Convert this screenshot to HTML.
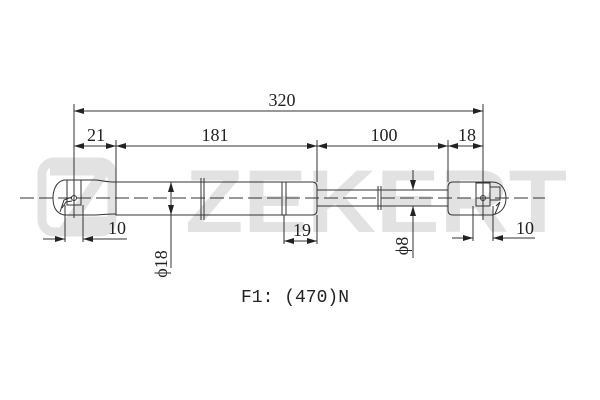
<!DOCTYPE html>
<html><head><meta charset="utf-8"><style>html,body{margin:0;padding:0;background:#fff}svg{display:block}</style></head>
<body>
<svg width="600" height="400" viewBox="0 0 600 400" xmlns="http://www.w3.org/2000/svg" font-family="Liberation Serif, serif">
<defs>
<marker id="a" viewBox="0 0 10 6" refX="10" refY="3" markerWidth="10" markerHeight="6" orient="auto-start-reverse" markerUnits="userSpaceOnUse"><path d="M0,0 L10,3 L0,6 z" fill="#222"/></marker>
</defs>
<g fill="none" stroke="#e2e2e2" stroke-width="9">
<rect x="42" y="162" width="70" height="70" rx="12"/>
</g>
<path d="M50,170 H105 L70,222 H108" fill="none" stroke="#e2e2e2" stroke-width="11"/>
<text x="185" y="232" font-family="Liberation Sans, sans-serif" font-weight="bold" font-size="89" fill="#e2e2e2" textLength="382" lengthAdjust="spacingAndGlyphs">ZEKERT</text>

<g stroke="#333" stroke-width="1" fill="none">
<line x1="20" y1="198" x2="545" y2="198" stroke-dasharray="14,5"/>
<path d="M116,182 C105,182 100,180 95,180 H64 C55,182 53,192 53,198 C53,205 55,213 64,215 H95 C100,215 105,214 116,214"/>
<rect x="67" y="180" width="14" height="25"/>
<circle cx="74" cy="198" r="2.5"/>
<path d="M60,212 L64,200 L72,197 M62,208 L66,202 L72,201"/>
<path d="M116,182 H312 Q317,182 317,187 V210 Q317,215 312,215 H116 Z"/>
<line x1="201" y1="178" x2="201" y2="220"/><line x1="204" y1="178" x2="204" y2="220"/>
<line x1="282" y1="182" x2="282" y2="215"/><line x1="286" y1="182" x2="286" y2="215"/>
<line x1="317" y1="190" x2="448" y2="190"/><line x1="317" y1="206" x2="448" y2="206"/>
<line x1="378" y1="186" x2="378" y2="210"/><line x1="381" y1="186" x2="381" y2="210"/>
<path d="M453,182 H492 C503,182 506,192 506,198 C506,205 503,213 492,215 H453 Q448,215 448,210 V187 Q448,182 453,182 Z"/>
<rect x="476" y="183" width="14" height="23"/>
<circle cx="483" cy="198" r="2.5"/>
<path d="M490,187 H500 V200 H490 M496,206 L500,202 L495,214"/>
<line x1="74" y1="104" x2="74" y2="218"/>
<line x1="483" y1="104" x2="483" y2="220"/>
<line x1="116" y1="140" x2="116" y2="182"/>
<line x1="317" y1="140" x2="317" y2="182"/>
<line x1="448" y1="140" x2="448" y2="182"/>
<line x1="65" y1="205" x2="65" y2="242"/><line x1="83" y1="205" x2="83" y2="242"/>
<line x1="284" y1="215" x2="284" y2="244"/><line x1="317" y1="215" x2="317" y2="244"/>
<line x1="473" y1="206" x2="473" y2="241"/><line x1="493" y1="206" x2="493" y2="241"/>
</g>
<g stroke="#333" stroke-width="1">
<line x1="74" y1="111" x2="483" y2="111" marker-start="url(#a)" marker-end="url(#a)"/>
<line x1="76" y1="146" x2="116" y2="146"/>
<line x1="84" y1="146" x2="74" y2="146" marker-end="url(#a)"/>
<line x1="106" y1="146" x2="116" y2="146" marker-end="url(#a)"/>
<line x1="116" y1="146" x2="317" y2="146"/>
<line x1="126" y1="146" x2="116" y2="146" marker-end="url(#a)"/>
<line x1="307" y1="146" x2="317" y2="146" marker-end="url(#a)"/>
<line x1="317" y1="146" x2="483" y2="146"/>
<line x1="327" y1="146" x2="317" y2="146" marker-end="url(#a)"/>
<line x1="438" y1="146" x2="448" y2="146" marker-end="url(#a)"/>
<line x1="458" y1="146" x2="448" y2="146" marker-end="url(#a)"/>
<line x1="473" y1="146" x2="483" y2="146" marker-end="url(#a)"/>
<line x1="43" y1="239" x2="65" y2="239" marker-end="url(#a)"/>
<line x1="127" y1="239" x2="83" y2="239" marker-end="url(#a)"/>
<line x1="284" y1="241" x2="317" y2="241"/>
<line x1="294" y1="241" x2="284" y2="241" marker-end="url(#a)"/>
<line x1="307" y1="241" x2="317" y2="241" marker-end="url(#a)"/>
<line x1="452" y1="238" x2="473" y2="238" marker-end="url(#a)"/>
<line x1="535" y1="238" x2="493" y2="238" marker-end="url(#a)"/>
<line x1="171" y1="198" x2="171" y2="182" marker-end="url(#a)"/>
<line x1="171" y1="198" x2="171" y2="215" marker-end="url(#a)"/>
<line x1="171" y1="215" x2="171" y2="268"/>
<line x1="413" y1="170" x2="413" y2="190" marker-end="url(#a)"/>
<line x1="413" y1="258" x2="413" y2="206" marker-end="url(#a)"/>
</g>
<g fill="#222" font-size="18">
<text x="282" y="106" text-anchor="middle">320</text>
<text x="96" y="141" text-anchor="middle">21</text>
<text x="215" y="141" text-anchor="middle">181</text>
<text x="384" y="141" text-anchor="middle">100</text>
<text x="467" y="141" text-anchor="middle">18</text>
<text x="117" y="234" text-anchor="middle">10</text>
<text x="302" y="236" text-anchor="middle">19</text>
<text x="525" y="234" text-anchor="middle">10</text>
<text transform="translate(167,264) rotate(-90)" text-anchor="middle">ϕ18</text>
<text transform="translate(408,246) rotate(-90)" text-anchor="middle">ϕ8</text>
<text x="295" y="302" text-anchor="middle" font-family="Liberation Mono, monospace" font-size="18">F1: (470)N</text>
</g>
</svg>
</body></html>
